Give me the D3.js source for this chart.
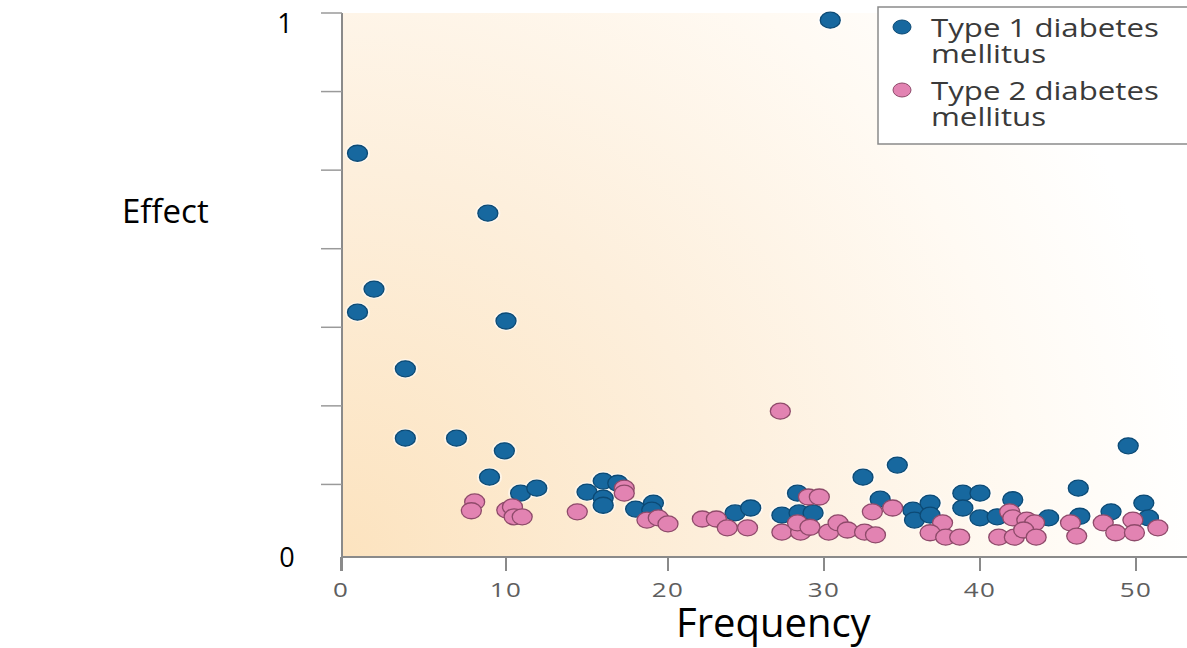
<!DOCTYPE html>
<html>
<head>
<meta charset="utf-8">
<script src="https://cdn.jsdelivr.net/npm/d3@7"></script>
<style>
  body { margin: 0; background: #fff; }
  svg { display: block; }
</style>
</head>
<body>
<svg id="chart" width="1187" height="648"></svg>
<script>
// values: [frequency, effect]
let type1 = [
  [30.4, 0.987], [1.0, 0.745], [8.9, 0.636], [2.0, 0.498], [1.0, 0.456],
  [10.0, 0.44], [3.9, 0.353], [3.9, 0.227], [7.0, 0.227], [9.9, 0.204],
  [9.0, 0.156], [10.9, 0.127], [11.9, 0.136], [15.0, 0.129], [16.0, 0.149],
  [16.9, 0.145], [16.0, 0.118], [16.0, 0.105], [18.0, 0.098], [19.1, 0.109],
  [19.0, 0.096], [24.3, 0.091], [25.3, 0.1], [28.3, 0.127], [27.3, 0.087],
  [28.4, 0.091], [29.3, 0.091], [32.5, 0.156], [34.7, 0.178], [33.6, 0.116],
  [35.7, 0.096], [35.8, 0.078], [36.8, 0.109], [36.8, 0.087], [38.9, 0.127],
  [40.0, 0.127], [38.9, 0.1], [40.0, 0.082], [41.1, 0.084], [42.1, 0.115],
  [44.4, 0.082], [46.3, 0.136], [46.4, 0.085], [48.4, 0.093], [49.5, 0.213],
  [50.5, 0.109], [50.8, 0.082]
];
let type2 = [
  [27.2, 0.276], [8.1, 0.111], [7.9, 0.095], [10.05, 0.096], [10.4, 0.102],
  [10.5, 0.084], [11.0, 0.084], [14.4, 0.093], [17.3, 0.136], [17.3, 0.127],
  [18.7, 0.078], [19.4, 0.082], [20.0, 0.071], [22.2, 0.08], [23.1, 0.08],
  [23.8, 0.064], [25.1, 0.064], [29.0, 0.12], [29.7, 0.12], [27.3, 0.056],
  [28.5, 0.056], [28.3, 0.073], [29.1, 0.065], [30.3, 0.056], [30.9, 0.073],
  [31.5, 0.06], [32.6, 0.056], [33.3, 0.051], [33.1, 0.093], [34.4, 0.1],
  [37.6, 0.073], [36.8, 0.055], [37.8, 0.047], [38.7, 0.047], [41.9, 0.093],
  [42.1, 0.082], [43.0, 0.078], [43.5, 0.073], [41.2, 0.047], [42.2, 0.047],
  [42.8, 0.06], [43.6, 0.047], [45.8, 0.073], [46.2, 0.049], [47.9, 0.073],
  [48.7, 0.055], [49.8, 0.078], [49.9, 0.055], [51.4, 0.064]
];
let xTicks = [0, 10, 20, 30, 40, 50];
let yTicks = [1/7, 2/7, 3/7, 4/7, 5/7, 6/7, 1];
let seriesNames = ["Type 1 diabetes", "Type 2 diabetes"];

let svg = d3.select("#chart");
let plotLeft = 342, plotBottom = 557, plotTop = 13, plotRight = 1187;

// the scanned axis is slightly uneven, so a polylinear scale follows the ticks
let x = d3.scaleLinear()
  .domain(xTicks)
  .range([341, 506, 668, 824, 980, 1136]);
let y = d3.scaleLinear()
  .domain([0, 1])
  .range([563, plotTop]);

// background wash
let defs = svg.append("defs");
let grad = defs.append("radialGradient")
  .attr("id", "wash")
  .attr("gradientUnits", "userSpaceOnUse")
  .attr("cx", plotLeft).attr("cy", plotBottom).attr("r", 860);
grad.append("stop").attr("offset", 0).attr("stop-color", "#fce3bf");
grad.append("stop").attr("offset", 0.45).attr("stop-color", "#fdefdc");
grad.append("stop").attr("offset", 0.8).attr("stop-color", "#fffaf3");
grad.append("stop").attr("offset", 1).attr("stop-color", "#ffffff");

svg.append("rect")
  .attr("x", plotLeft).attr("y", plotTop)
  .attr("width", plotRight - plotLeft).attr("height", plotBottom - plotTop)
  .style("fill", "url(#wash)");

// y axis
svg.append("line")
  .attr("x1", plotLeft).attr("x2", plotLeft)
  .attr("y1", plotTop).attr("y2", 571)
  .style("stroke", "#8a8a8a").style("stroke-width", 2);
svg.selectAll(".ytick")
  .data(yTicks)
  .enter()
  .append("line")
  .attr("x1", 321).attr("x2", plotLeft)
  .attr("y1", d => y(d)).attr("y2", d => y(d))
  .style("stroke", "#9a9a9a").style("stroke-width", 1.5);

// x axis
svg.append("line")
  .attr("x1", plotLeft).attr("x2", plotRight)
  .attr("y1", plotBottom).attr("y2", plotBottom)
  .style("stroke", "#8a8a8a").style("stroke-width", 2);
svg.selectAll(".xtick")
  .data(xTicks)
  .enter()
  .append("line")
  .attr("x1", d => x(d)).attr("x2", d => x(d))
  .attr("y1", plotBottom).attr("y2", 571)
  .style("stroke", "#8a8a8a").style("stroke-width", 2);
svg.selectAll(".xlabel")
  .data(xTicks)
  .enter()
  .append("text")
  .attr("transform", d => "translate(" + x(d) + ",597) scale(1.3,1)")
  .text(d => d)
  .style("font-family", "Open Sans")
  .style("font-size", 20)
  .style("letter-spacing", "1px")
  .style("text-anchor", "middle")
  .style("fill", "#5e5e5e");

// points: white halo first, then the dot
function drawDots(data, fill, stroke, halo) {
  let g = svg.append("g");
  if (halo) {
    g.selectAll(".halo")
      .data(data)
      .enter()
      .append("ellipse")
      .attr("cx", d => x(d[0])).attr("cy", d => y(d[1]))
      .attr("rx", 12.5).attr("ry", 10)
      .style("fill", "#ffffff").style("opacity", 0.55);
  }
  g.selectAll(".dot")
    .data(data)
    .enter()
    .append("ellipse")
    .attr("cx", d => x(d[0])).attr("cy", d => y(d[1]))
    .attr("rx", 10).attr("ry", 8)
    .style("fill", fill)
    .style("stroke", stroke)
    .style("stroke-width", 1.3);
}
drawDots(type1, "#17689f", "#0c4a75", true);
drawDots(type2, "#e283b2", "#8e4a6a", false);

// legend
svg.append("rect")
  .attr("x", 878).attr("y", 7)
  .attr("width", 330).attr("height", 137)
  .style("fill", "#ffffff")
  .style("stroke", "#8a8a8a").style("stroke-width", 1.5);
let legendColors = [["#17689f", "#0c4a75"], ["#e283b2", "#8e4a6a"]];
seriesNames.forEach(function(name, i) {
  let cy = 27 + i * 63;
  svg.append("ellipse")
    .attr("cx", 902).attr("cy", cy)
    .attr("rx", 9).attr("ry", 7)
    .style("fill", legendColors[i][0])
    .style("stroke", legendColors[i][1]);
  [name, "mellitus"].forEach(function(line, j) {
    svg.append("text")
      .attr("transform", "translate(931," + (cy + 10 + j * 26) + ") scale(1.2,1)")
      .text(line)
      .style("font-family", "Open Sans")
      .style("font-size", 26)
      .style("fill", "#3a3a3a");
  });
});

// axis titles laid over the figure
let overlay = [
  {t: "1", x: 285, y: 33, s: 27, a: "middle"},
  {t: "0", x: 287, y: 567, s: 27, a: "middle"},
  {t: "Effect", x: 122, y: 223, s: 33, a: "start"},
  {t: "Frequency", x: 676, y: 637, s: 40, a: "start"}
];
svg.selectAll(".overlay")
  .data(overlay)
  .enter()
  .append("text")
  .attr("x", d => d.x).attr("y", d => d.y)
  .text(d => d.t)
  .style("font-family", "Open Sans")
  .style("font-size", d => d.s)
  .style("text-anchor", d => d.a)
  .style("fill", "#000");
</script>
</body>
</html>
